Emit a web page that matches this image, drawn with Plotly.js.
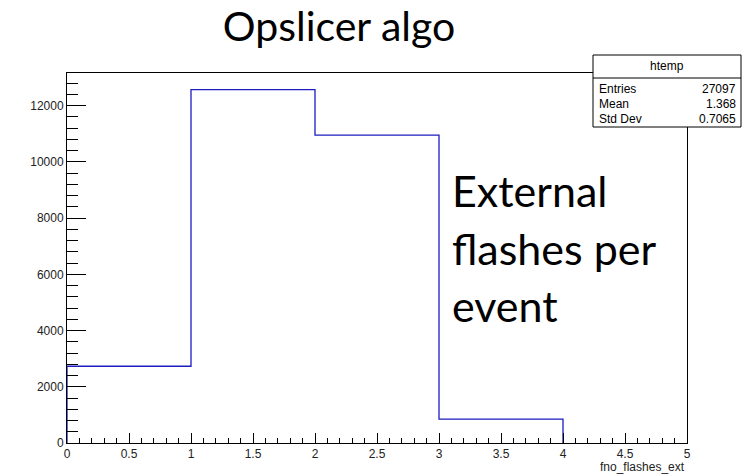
<!DOCTYPE html>
<html>
<head>
<meta charset="utf-8">
<script src="https://cdn.plot.ly/plotly-3.0.1.min.js"></script>
<style>
  html, body { margin: 0; padding: 0; background: #ffffff; }
  #chart { width: 746px; height: 476px; }
</style>
</head>
<body>
<div id="chart"></div>
<script>
// Histogram of external flashes per event (bin width 1)
const binEdges = [0, 1, 2, 3, 4];
const binCounts = [2730, 12570, 10950, 850];

// Statistics box contents
const statsTitle = "htemp";
const statsLabels = ["Entries", "Mean", "Std Dev"];
const statsValues = ["27097", "1.368", "0.7065"];

const chartTitle = "Opslicer algo";
const xAxisTitle = "fno_flashes_ext";
const noteLines = ["External", "flashes per", "event"];

// Build the step outline of the histogram from edges and counts
const stepX = [binEdges[0]];
const stepY = [0];
for (let i = 0; i < binCounts.length; i++) {
  stepX.push(binEdges[i]);
  stepY.push(binCounts[i]);
}
stepX.push(binEdges[binEdges.length - 1]);
stepY.push(0);

const lineBlue = "#1c1cc0";
const rootFont = "Liberation Sans, Arial, sans-serif";
const slideFont = "Lato, Open Sans, sans-serif";

const trace = {
  type: "scatter",
  mode: "lines",
  x: stepX,
  y: stepY,
  line: { shape: "hv", color: lineBlue, width: 1.3 },
  hoverinfo: "skip",
  showlegend: false,
  cliponaxis: false
};

const yMax = Math.max(...binCounts) * 1.047;

// Pixel helpers for placing overlay items in paper units
const M = { l: 67, r: 59, t: 73, b: 33 };
const W = 746, H = 476;
const pw = W - M.l - M.r, ph = H - M.t - M.b;
const px = x => (x - M.l) / pw;
const py = y => (H - M.b - y) / ph;

const annotations = [];
const shapes = [];

// Stats box
const bx0 = 593, bx1 = 741, by0 = 55, by1 = 127, byHead = 78;
shapes.push({ type: "rect", xref: "paper", yref: "paper",
  x0: px(bx0), x1: px(bx1), y0: py(by1), y1: py(by0),
  line: { color: "#000", width: 1 }, fillcolor: "#ffffff" });
shapes.push({ type: "line", xref: "paper", yref: "paper",
  x0: px(bx0), x1: px(bx1), y0: py(byHead), y1: py(byHead),
  line: { color: "#000", width: 1 } });
annotations.push({ xref: "paper", yref: "paper", x: px((bx0 + bx1) / 2), y: py(66),
  text: statsTitle, showarrow: false, xanchor: "center", yanchor: "middle",
  font: { family: rootFont, size: 12, color: "#000" } });
const rowY = [89, 104, 119];
statsLabels.forEach((lab, i) => {
  annotations.push({ xref: "paper", yref: "paper", x: px(597), y: py(rowY[i]),
    text: lab, showarrow: false, xanchor: "left", yanchor: "middle",
    font: { family: rootFont, size: 12, color: "#000" } });
  annotations.push({ xref: "paper", yref: "paper", x: px(738), y: py(rowY[i]),
    text: statsValues[i], showarrow: false, xanchor: "right", yanchor: "middle",
    font: { family: rootFont, size: 12, color: "#000" } });
});

// Slide text beside the histogram
const noteY = [190, 248, 305];
noteLines.forEach((t, i) => {
  annotations.push({ xref: "paper", yref: "paper", x: px(450), y: py(noteY[i]),
    text: t, showarrow: false, xanchor: "left", yanchor: "middle",
    font: { family: slideFont, size: 43, color: "#000" } });
});

// Axis title, right aligned under the x axis
annotations.push({ xref: "paper", yref: "paper", x: 1, y: py(467),
  text: xAxisTitle, showarrow: false, xanchor: "right", yanchor: "middle",
  font: { family: rootFont, size: 12, color: "#222" } });

const layout = {
  width: W, height: H,
  margin: M,
  paper_bgcolor: "#ffffff",
  plot_bgcolor: "#ffffff",
  title: {
    text: chartTitle,
    font: { family: slideFont, size: 41, color: "#000" },
    x: 339 / W, xref: "container", xanchor: "center",
    y: 1 - 27 / H, yref: "container", yanchor: "middle"
  },
  xaxis: {
    range: [0, 5],
    tick0: 0, dtick: 0.5,
    ticks: "inside", ticklen: 10, tickwidth: 1, tickcolor: "#000",
    minor: { dtick: 0.1, ticks: "inside", ticklen: 5, tickwidth: 1, tickcolor: "#000", showgrid: false },
    showline: true, linecolor: "#000", linewidth: 1, mirror: true,
    showgrid: false, zeroline: false,
    tickfont: { family: rootFont, size: 12, color: "#222" },
    fixedrange: true
  },
  yaxis: {
    range: [0, yMax],
    tick0: 0, dtick: 2000, tickformat: "d",
    ticks: "inside", ticklen: 19, tickwidth: 1, tickcolor: "#000",
    minor: { dtick: 400, ticks: "inside", ticklen: 11, tickwidth: 1, tickcolor: "#000", showgrid: false },
    showline: true, linecolor: "#000", linewidth: 1, mirror: true,
    showgrid: false, zeroline: false,
    tickfont: { family: rootFont, size: 12, color: "#222" },
    fixedrange: true
  },
  shapes: shapes,
  annotations: annotations,
  showlegend: false
};

Plotly.newPlot("chart", [trace], layout, { displayModeBar: false, staticPlot: true });
</script>
</body>
</html>
